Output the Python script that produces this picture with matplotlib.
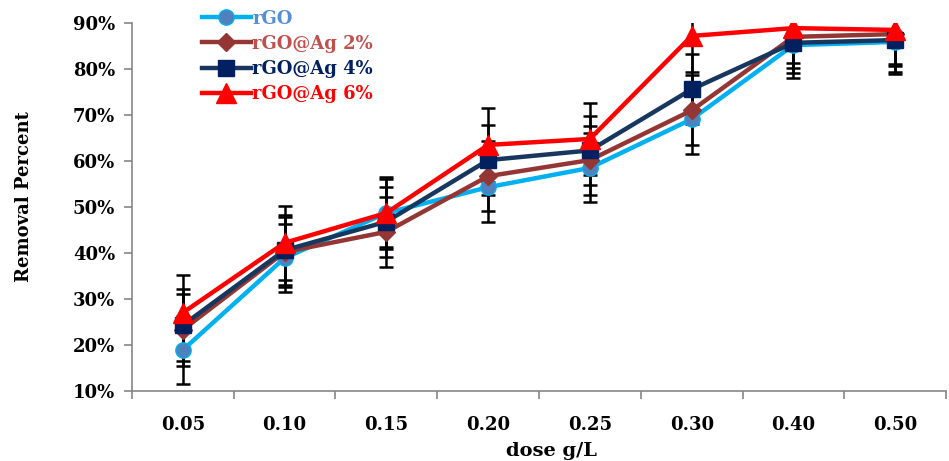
import numpy as np
import matplotlib
matplotlib.use('Agg')
import matplotlib.pyplot as plt
from matplotlib.ticker import FixedLocator, PercentFormatter

plt.rcParams['font.family'] = ['DejaVu Serif']
plt.rcParams['font.weight'] = 'bold'

# Dose levels (g/L) and removal percentages for each adsorbent
doses = ['0.05', '0.10', '0.15', '0.20', '0.25', '0.30', '0.40', '0.50']
rgo = [18.9, 38.9, 48.7, 54.3, 58.5, 69.1, 85.2, 85.9]
rgo_ag2 = [23.3, 40.2, 44.6, 56.7, 60.2, 71.0, 87.0, 87.6]
rgo_ag4 = [24.3, 40.6, 46.8, 60.2, 62.3, 75.6, 85.7, 86.3]
rgo_ag6 = [27.0, 42.2, 48.7, 63.5, 64.8, 87.2, 88.9, 88.5]

# Standard deviations
rgo_err = [7.4, 7.4, 7.4, 7.6, 7.5, 7.5, 7.2, 7.0]
rgo_ag2_err = [7.8, 7.6, 7.6, 7.6, 7.5, 7.6, 6.8, 7.0]
rgo_ag4_err = [7.8, 7.6, 7.6, 7.6, 7.5, 7.6, 6.5, 7.0]
rgo_ag6_err = [8.2, 8.0, 7.8, 8.0, 7.8, 7.8, 7.6, 7.4]

series = [
    ('rGO', rgo, rgo_err, dict(color='#00B0F0', marker='o', mfc='#4F81BD', mec='#00B0F0', ms=11), '#558ED5'),
    ('rGO@Ag 2%', rgo_ag2, rgo_ag2_err, dict(color='#943634', marker='D', mfc='#943634', mec='#943634', ms=9), '#C0504D'),
    ('rGO@Ag 4%', rgo_ag4, rgo_ag4_err, dict(color='#17375E', marker='s', mfc='#002060', mec='#002060', ms=11), '#002060'),
    ('rGO@Ag 6%', rgo_ag6, rgo_ag6_err, dict(color='#FF0000', marker='^', mfc='#FF0000', mec='#FF0000', ms=14), '#FF0000'),
]

fig = plt.figure(figsize=(9.49, 4.61), dpi=100)
ax = fig.add_axes([0.139, 0.152, 0.858, 0.798])

x = np.arange(len(doses))
for label, vals, err, style, _ in series:
    ax.errorbar(x, vals, yerr=err, fmt='none', ecolor='black', elinewidth=1.8,
                capsize=5, capthick=1.8, zorder=2)
for label, vals, err, style, _ in series:
    ax.plot(x, vals, lw=3.2, label=label, zorder=3, **style)

ax.set_xlim(-0.5, len(doses) - 0.5)
ax.set_ylim(10, 90)
ax.set_xticks(x)
ax.set_xticklabels(doses)
ax.xaxis.set_minor_locator(FixedLocator(np.arange(-0.5, len(doses), 1.0)))
ax.tick_params(axis='x', which='major', length=0, pad=18, labelsize=13)
ax.tick_params(axis='x', which='minor', length=6, color='#868686', width=1.2)
ax.set_yticks(np.arange(10, 91, 10))
ax.yaxis.set_major_formatter(PercentFormatter(decimals=0))
ax.tick_params(axis='y', length=6, color='#868686', width=1.2, labelsize=13, pad=6)

for side in ['top', 'right']:
    ax.spines[side].set_visible(False)
for side in ['left', 'bottom']:
    ax.spines[side].set_color('#868686')
    ax.spines[side].set_linewidth(1.2)

ax.set_xlabel('dose g/L', fontsize=14, fontweight='bold')
ax.set_ylabel('Removal Percent', fontsize=13, fontweight='bold')
ax.xaxis.set_label_coords(0.515, -0.138, transform=ax.transAxes)
ax.yaxis.set_label_coords(-0.121, 0.527, transform=ax.transAxes)

leg = fig.legend(loc='upper left', bbox_to_anchor=(0.205, 0.995), frameon=False,
                 fontsize=13, handlelength=2.7, handletextpad=0.1, labelspacing=0.4,
                 borderaxespad=0)
for text, (_, _, _, _, tcolor) in zip(leg.get_texts(), series):
    text.set_color(tcolor)
    text.set_fontweight('bold')

fig.savefig('out.png', dpi=100)
